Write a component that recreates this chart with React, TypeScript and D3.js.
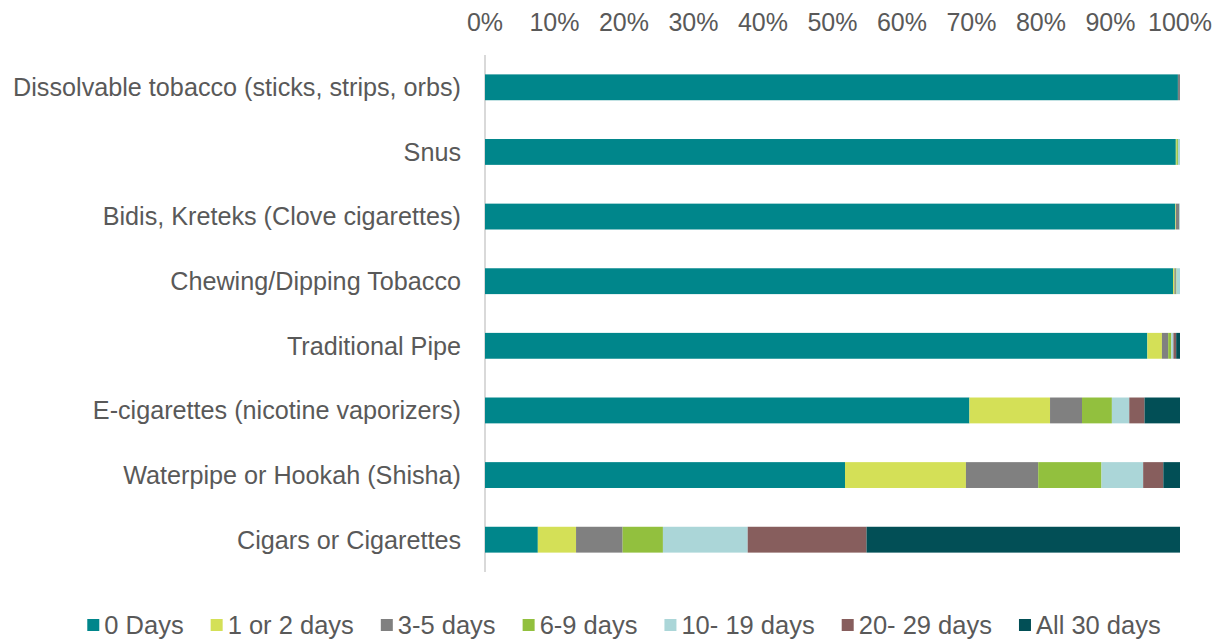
import React, { useEffect, useRef } from "react";
import * as d3 from "d3";

const categories = [
  "Dissolvable tobacco (sticks, strips, orbs)",
  "Snus",
  "Bidis, Kreteks (Clove cigarettes)",
  "Chewing/Dipping Tobacco",
  "Traditional Pipe",
  "E-cigarettes (nicotine vaporizers)",
  "Waterpipe or Hookah (Shisha)",
  "Cigars or Cigarettes",
];
const seriesNames = ["0 Days", "1 or 2 days", "3-5 days", "6-9 days", "10- 19 days", "20- 29 days", "All 30 days"];
const colors = ["#00868B", "#D4E057", "#808080", "#92C03E", "#ABD6D8", "#875E5D", "#024F56"];
const days0 = [99.7, 99.4, 99.3, 99.0, 95.3, 69.7, 51.8, 7.6];
const days1to2 = [0.0, 0.1, 0.1, 0.2, 2.1, 11.6, 17.4, 5.5];
const days3to5 = [0.3, 0.0, 0.5, 0.2, 0.9, 4.6, 10.4, 6.7];
const days6to9 = [0.0, 0.2, 0.0, 0.1, 0.45, 4.3, 9.1, 5.8];
const days10to19 = [0.0, 0.3, 0.1, 0.5, 0.3, 2.5, 6.0, 12.2];
const days20to29 = [0.0, 0.0, 0.0, 0.0, 0.4, 2.2, 2.9, 17.1];
const days30 = [0.0, 0.0, 0.0, 0.0, 0.55, 5.1, 2.4, 45.1];
const tickValues = [0, 10, 20, 30, 40, 50, 60, 70, 80, 90, 100];

const W = 1221, H = 640;
const FONT = "'Liberation Sans', Arial, sans-serif";
const TEXT = "#595959";

export default function App() {
  const ref = useRef<SVGSVGElement>(null);
  useEffect(() => {
    document.body.style.margin = "0";
    const svg = d3.select(ref.current);
    svg.selectAll("*").remove();
    const seriesVals = [days0, days1to2, days3to5, days6to9, days10to19, days20to29, days30];
    const rows = categories.map((c, i) => {
      const r: any = { cat: c };
      seriesNames.forEach((s, j) => (r[s] = seriesVals[j][i]));
      return r;
    });
    const stacked = d3.stack<any>().keys(seriesNames)(rows);
    const x = d3.scaleLinear().domain([0, 100]).range([485, 1180]);
    const y = d3.scaleBand<string>().domain(categories).range([55, 572]).paddingInner(0.6).paddingOuter(0.3);

    svg.append("line").attr("x1", x(0)).attr("x2", x(0)).attr("y1", 55).attr("y2", 572)
      .attr("stroke", "#D9D9D9").attr("stroke-width", 2);

    svg.append("g").selectAll("text").data(tickValues).join("text")
      .attr("x", (d) => x(d)).attr("y", 31).attr("text-anchor", "middle")
      .attr("font-family", FONT).attr("font-size", 25).attr("fill", TEXT)
      .text((d) => d + "%");

    svg.append("g").selectAll("g").data(stacked).join("g")
      .attr("fill", (_d, i) => colors[i])
      .selectAll("rect").data((d) => d).join("rect")
      .attr("x", (d) => x(d[0])).attr("width", (d) => Math.max(0, x(d[1]) - x(d[0])))
      .attr("y", (d) => y(d.data.cat)!).attr("height", y.bandwidth());

    svg.append("g").selectAll("text").data(categories).join("text")
      .attr("x", 461).attr("y", (d) => y(d)! + y.bandwidth() / 2).attr("dy", "0.35em")
      .attr("text-anchor", "end").attr("font-family", FONT).attr("font-size", 25.2).attr("fill", TEXT)
      .text((d) => d);

    const lg = svg.append("g");
    const items = seriesNames.map((s, i) => {
      const g = lg.append("g");
      g.append("rect").attr("x", 0).attr("y", -6).attr("width", 12).attr("height", 12).attr("fill", colors[i]);
      const t = g.append("text").attr("x", 17).attr("y", 0).attr("dy", "0.35em")
        .attr("font-family", FONT).attr("font-size", 25.5).attr("fill", TEXT).text(s);
      const w = 17 + (t.node() as SVGTextElement).getComputedTextLength();
      return { g, w };
    });
    const gap = 27;
    const total = d3.sum(items, (d) => d.w) + gap * (items.length - 1);
    let cx = 624 - total / 2;
    items.forEach((it) => {
      it.g.attr("transform", `translate(${cx},625)`);
      cx += it.w + gap;
    });
  }, []);
  return <svg ref={ref} width={W} height={H} style={{ display: "block" }} />;
}
